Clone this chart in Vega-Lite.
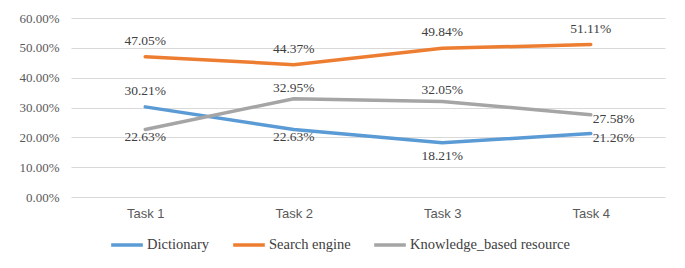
{
  "$schema": "https://vega.github.io/schema/vega-lite/v6.json",
  "width": 594,
  "height": 179,
  "autosize": {"type": "none"},
  "padding": {"left": 71, "top": 18, "right": 20, "bottom": 71},
  "background": "white",
  "config": {"view": {"stroke": null}},
  "data": {"values": [
    {"task": "Task 1", "series": "Dictionary", "value": 0.3021},
    {"task": "Task 2", "series": "Dictionary", "value": 0.2263},
    {"task": "Task 3", "series": "Dictionary", "value": 0.1821},
    {"task": "Task 4", "series": "Dictionary", "value": 0.2126},
    {"task": "Task 1", "series": "Search engine", "value": 0.4705},
    {"task": "Task 2", "series": "Search engine", "value": 0.4437},
    {"task": "Task 3", "series": "Search engine", "value": 0.4984},
    {"task": "Task 4", "series": "Search engine", "value": 0.5111},
    {"task": "Task 1", "series": "Knowledge_based resource", "value": 0.2263},
    {"task": "Task 2", "series": "Knowledge_based resource", "value": 0.3295},
    {"task": "Task 3", "series": "Knowledge_based resource", "value": 0.3205},
    {"task": "Task 4", "series": "Knowledge_based resource", "value": 0.2758}
  ]},
  "encoding": {
    "x": {"field": "task", "type": "ordinal", "sort": null,
      "scale": {"type": "point", "padding": 0.5},
      "axis": {"title": null, "domain": false, "ticks": false, "labelAngle": 0,
        "labelFont": "Liberation Sans", "labelFontSize": 13, "labelColor": "#595959", "labelPadding": 10}},
    "y": {"field": "value", "type": "quantitative",
      "scale": {"domain": [0, 0.6], "nice": false},
      "axis": {"title": null, "domain": false, "ticks": false, "values": [0, 0.1, 0.2, 0.3, 0.4, 0.5, 0.6],
        "format": ".2%", "labelOverlap": false,
        "labelFont": "Liberation Serif", "labelFontSize": 13, "labelColor": "#595959", "labelPadding": 12,
        "gridColor": "#d9d9d9", "gridWidth": 1}}
  },
  "layer": [
    {
      "mark": {"type": "line", "strokeWidth": 3.5, "strokeCap": "round"},
      "encoding": {
        "color": {"field": "series", "type": "nominal",
          "sort": ["Dictionary", "Search engine", "Knowledge_based resource"],
          "scale": {"domain": ["Dictionary", "Search engine", "Knowledge_based resource"], "range": ["#5B9BD5", "#ED7D31", "#A5A5A5"]},
          "legend": {"title": null, "orient": "none", "direction": "horizontal", "legendX": 38, "legendY": 209,
            "symbolType": "stroke", "symbolStrokeWidth": 3.5, "symbolSize": 1000,
            "labelFont": "Liberation Serif", "labelFontSize": 14.5, "labelColor": "#404040", "labelLimit": 0,
            "columnPadding": 16, "labelOffset": 2}}
      }
    },
    {
      "transform": [{"filter": "datum.series == 'Search engine' || (datum.series == 'Dictionary' && datum.task == 'Task 1')"}],
      "mark": {"type": "text", "dy": -16, "font": "Liberation Serif", "fontSize": 13.5, "color": "#404040"},
      "encoding": {"text": {"field": "value", "type": "quantitative", "format": ".2%"}}
    },
    {
      "transform": [{"filter": "datum.series == 'Knowledge_based resource' && (datum.task == 'Task 2' || datum.task == 'Task 3')"}],
      "mark": {"type": "text", "dy": -11, "font": "Liberation Serif", "fontSize": 13.5, "color": "#404040"},
      "encoding": {"text": {"field": "value", "type": "quantitative", "format": ".2%"}}
    },
    {
      "transform": [{"filter": "(datum.series == 'Dictionary' && datum.task == 'Task 2') || (datum.series == 'Knowledge_based resource' && datum.task == 'Task 1')"}],
      "mark": {"type": "text", "dy": 8, "font": "Liberation Serif", "fontSize": 13.5, "color": "#404040"},
      "encoding": {"text": {"field": "value", "type": "quantitative", "format": ".2%"}}
    },
    {
      "transform": [{"filter": "datum.series == 'Dictionary' && datum.task == 'Task 3'"}],
      "mark": {"type": "text", "dy": 13, "font": "Liberation Serif", "fontSize": 13.5, "color": "#404040"},
      "encoding": {"text": {"field": "value", "type": "quantitative", "format": ".2%"}}
    },
    {
      "transform": [{"filter": "datum.series != 'Search engine' && datum.task == 'Task 4'"}],
      "mark": {"type": "text", "align": "left", "dx": 2, "dy": 4, "font": "Liberation Serif", "fontSize": 13.5, "color": "#404040"},
      "encoding": {"text": {"field": "value", "type": "quantitative", "format": ".2%"}}
    }
  ]
}
